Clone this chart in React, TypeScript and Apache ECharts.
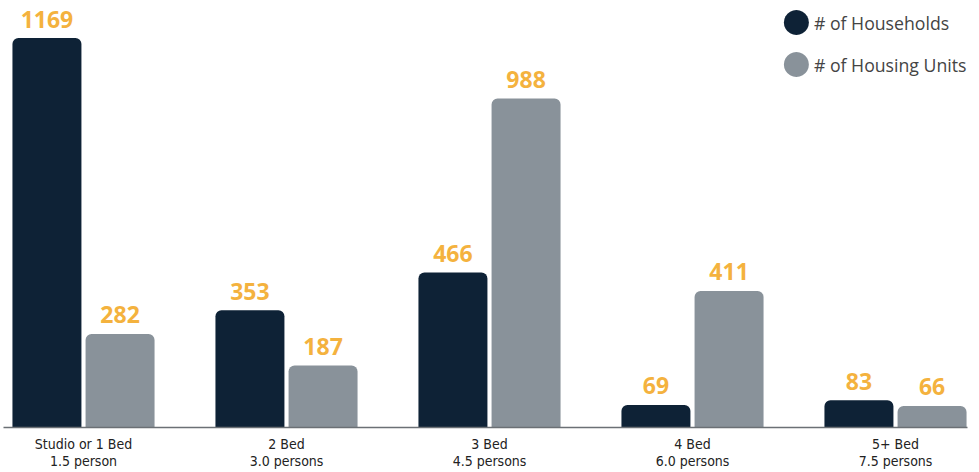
import React, { useEffect, useRef } from "react";
import * as echarts from "echarts";

const categories = ["Studio or 1 Bed\n1.5 person", "2 Bed\n3.0 persons", "3 Bed\n4.5 persons", "4 Bed\n6.0 persons", "5+ Bed\n7.5 persons"];
const households = [1169, 353, 466, 69, 83];
const housingUnits = [282, 187, 988, 411, 66];
const seriesNames = ["# of Households", "# of Housing Units"];

const NAVY = "#0E2236";
const GREY = "#89929A";
const ORANGE = "#F4B23E";

// the chart canvas is a bit wider than the page so the outer categories can extend past the edges
const OFFSET = 18.5;
const INNER_W = 1015;

export default function App() {
  const ref = useRef<HTMLDivElement>(null);
  useEffect(() => {
    if (!ref.current) return;
    const chart = echarts.init(ref.current, undefined, { renderer: "svg" });
    const label = {
      show: true,
      position: "top",
      distance: 8,
      color: ORANGE,
      fontFamily: "Open Sans",
      fontWeight: "bold",
      fontSize: 23,
    };
    chart.setOption({
      animation: false,
      grid: { left: 0, right: 0, top: 38, bottom: 44, containLabel: false },
      legend: {
        orient: "vertical",
        right: INNER_W - 979 - OFFSET + 8,
        top: 5,
        icon: "circle",
        itemWidth: 25,
        itemHeight: 25,
        itemGap: 17,
        textStyle: { fontFamily: "Open Sans", fontSize: 17.7, color: "#444" },
        data: seriesNames,
      },
      xAxis: {
        type: "category",
        data: categories,
        axisLine: { show: false },
        axisTick: { show: false },
        axisLabel: {
          margin: 7,
          fontFamily: "Liberation Sans Narrow, DejaVu Sans Condensed, sans-serif",
          fontSize: 14,
          lineHeight: 17,
          color: "#222",
        },
      },
      yAxis: { type: "value", min: 0, max: 1169, show: false, splitLine: { show: false } },
      graphic: [
        {
          type: "line",
          shape: { x1: 3 + OFFSET, y1: 427.5, x2: 967 + OFFSET, y2: 427.5 },
          style: { stroke: "#6B7075", lineWidth: 1.5 },
          z: 10,
        },
      ],
      series: [
        {
          name: seriesNames[0],
          type: "bar",
          data: households,
          barCategoryGap: "30%",
          barGap: "6%",
          itemStyle: { color: NAVY, borderRadius: [6, 6, 0, 0] },
          label,
        },
        {
          name: seriesNames[1],
          type: "bar",
          data: housingUnits,
          barCategoryGap: "30%",
          barGap: "6%",
          itemStyle: { color: GREY, borderRadius: [6, 6, 0, 0] },
          label,
        },
      ],
    });
    return () => chart.dispose();
  }, []);
  return (
    <div style={{ position: "absolute", left: 0, top: 0, width: 979, height: 472, overflow: "hidden" }}>
      <div ref={ref} style={{ position: "absolute", left: -OFFSET, top: 0, width: INNER_W, height: 472 }} />
    </div>
  );
}
